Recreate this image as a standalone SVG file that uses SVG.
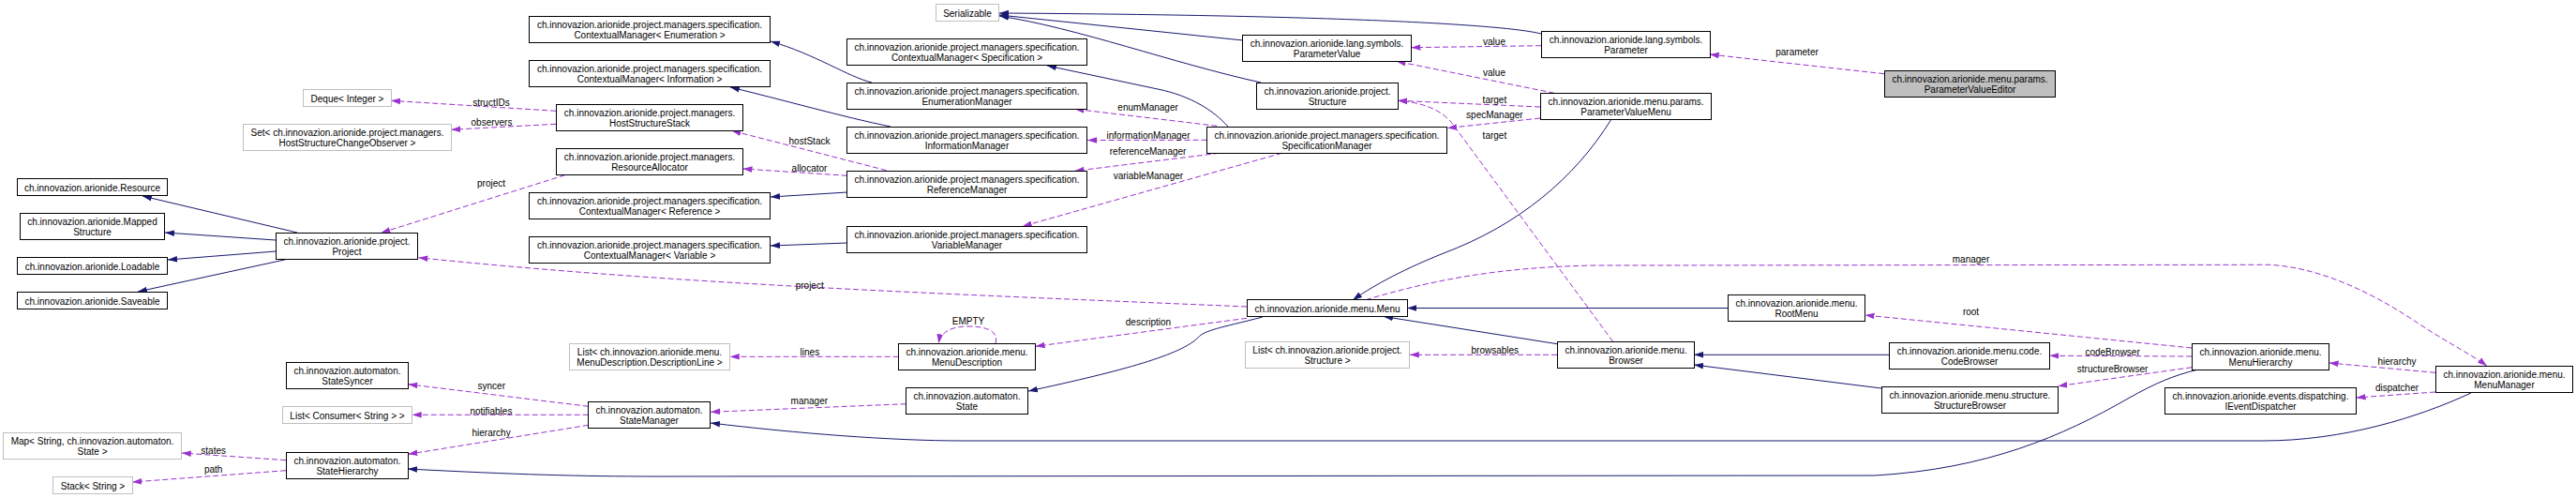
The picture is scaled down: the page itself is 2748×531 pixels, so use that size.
<svg xmlns="http://www.w3.org/2000/svg" width="2748" height="531" viewBox="0 0 2748 531">
<style>
text{font-family:"Liberation Sans",Arial,Helvetica,sans-serif;font-size:10px;fill:#000;text-anchor:middle}
.n rect{fill:#fff;stroke:#000;stroke-width:1}
.x rect{fill:#fff;stroke:#bfbfbf;stroke-width:1}
.m rect{fill:#bfbfbf;stroke:#000;stroke-width:1}
.i{fill:none;stroke:#191970;stroke-width:1;marker-end:url(#inh)}
.d{fill:none;stroke:#9a32cd;stroke-width:1;stroke-dasharray:6,3;marker-end:url(#dep)}
</style>
<defs>
<marker id="inh" markerUnits="userSpaceOnUse" markerWidth="10" markerHeight="8" viewBox="0 0 10 8" refX="10" refY="4" orient="auto"><path d="M0,0.7 L10,4 L0,7.3 z" fill="#191970"/></marker>
<marker id="dep" markerUnits="userSpaceOnUse" markerWidth="10" markerHeight="8" viewBox="0 0 10 8" refX="10" refY="4" orient="auto"><path d="M0,0.7 L10,4 L0,7.3 z" fill="#9a32cd"/></marker>
</defs>
<rect width="2748" height="531" fill="#fff"/>
<g id="connectors">
<path class="i" d="M1644,36 C1600,25 1400,16 1066,14"/>
<path class="i" d="M1326,43 L1066,16"/>
<path class="i" d="M1345,88 C1250,67 1150,30 1066,17"/>
<path class="i" d="M930,88 C905,82 870,58 822,44"/>
<path class="i" d="M950,135 C900,125 830,105 779,93"/>
<path class="i" d="M904,205 L822,210"/>
<path class="i" d="M904,259 L822,262"/>
<path class="i" d="M1310,135 C1295,118 1270,102 1235,95 L1117,70"/>
<path class="i" d="M317,248 L152,209"/>
<path class="i" d="M294,256 L176,248"/>
<path class="i" d="M294,268 L179,277"/>
<path class="i" d="M308,276 L147,311"/>
<path class="i" d="M1719,127 C1680,190 1620,240 1540,270 C1490,290 1460,308 1443,320"/>
<path class="i" d="M1843,328.5 L1501,328.5"/>
<path class="i" d="M1661,366.7 L1476,337.5"/>
<path class="i" d="M2015,378.3 L1807,378.3"/>
<path class="i" d="M2007,414 L1807,389"/>
<path class="i" d="M1347,338 C1300,350 1285,352 1278,360 C1260,378 1200,395 1097,417"/>
<path class="i" d="M2636,419 C2580,445 2500,470 2414,470 L1028,470 C950,470 850,462 758,451"/>
<path class="i" d="M2343,394.5 C2320,400 2300,408 2270,425 C2200,465 2120,500 2000,507 L700,508 C620,508 550,506 435,500"/>
<path class="d" d="M593,118.3 L417,107.3"/>
<path class="d" d="M593,132.3 L481.3,138.3"/>
<path class="d" d="M602.7,186.7 L406.3,248.3"/>
<path class="d" d="M945.6,181.7 L780.4,139.3"/>
<path class="d" d="M903.7,187.3 L792.5,180"/>
<path class="d" d="M1298.3,134.3 L1146.5,116.3"/>
<path class="d" d="M1287.6,149.3 L1160,149.5"/>
<path class="d" d="M1300.5,163.3 L1146.5,182.3"/>
<path class="d" d="M1367.5,163.3 L1090.7,241.3"/>
<path class="d" d="M1644,48.7 L1505.5,50.7"/>
<path class="d" d="M2010,78.7 L1823.8,58"/>
<path class="d" d="M1658.2,99.3 L1489.5,65.3"/>
<path class="d" d="M1643,114 L1491.3,107.3"/>
<path class="d" d="M1643,126 L1544,136.5"/>
<path class="d" d="M1720.7,364.3 L1548,130 Q1530,110 1491.3,107.3"/>
<path class="d" d="M1330,327 C1000,313 720,303 446.4,274.7"/>
<path class="d" d="M1330,339.3 L1104.6,369.3"/>
<path class="d" d="M1062,366.3 C1066,352 1050,348 1033,348 C1015,348 1003,354 1001.4,366.3"/>
<path class="d" d="M958.6,380.3 L778.7,380.3"/>
<path class="d" d="M966.6,430.7 L758.1,439.3"/>
<path class="d" d="M627.7,433.3 L435.3,409.7"/>
<path class="d" d="M627.7,442.3 L439.7,442.3"/>
<path class="d" d="M627.7,453.3 L435.3,484.3"/>
<path class="d" d="M305,490.7 L193.8,483"/>
<path class="d" d="M305,501.7 L141.1,514"/>
<path class="d" d="M1661,378.3 L1503.8,378.3"/>
<path class="d" d="M1457,319.7 C1530,298 1600,285 1700,283 L2420,282.3 C2480,285 2540,318 2580,345 C2615,368 2640,380 2653,390.3"/>
<path class="d" d="M2338.2,371 L1989.5,336"/>
<path class="d" d="M2338.2,380 L2186.4,379.3"/>
<path class="d" d="M2338.2,391.7 L2195.3,411.7"/>
<path class="d" d="M2598,397.3 L2484.6,387"/>
<path class="d" d="M2598,418 L2513.6,424"/>
<text x="524" y="112.5">structIDs</text>
<text x="524.5" y="134">observers</text>
<text x="524" y="198.5">project</text>
<text x="863.5" y="154">hostStack</text>
<text x="863.5" y="182.5">allocator</text>
<text x="1224.6" y="118">enumManager</text>
<text x="1225" y="147.5">informationManager</text>
<text x="1224.6" y="165">referenceManager</text>
<text x="1224.9" y="190.5">variableManager</text>
<text x="1594" y="48">value</text>
<text x="1917" y="58.7">parameter</text>
<text x="1594" y="80.5">value</text>
<text x="1594.4" y="109.5">target</text>
<text x="1594.4" y="125.5">specManager</text>
<text x="1594.4" y="148">target</text>
<text x="863.7" y="308">project</text>
<text x="1033" y="346">EMPTY</text>
<text x="1225" y="346.5">description</text>
<text x="863.9" y="379">lines</text>
<text x="863.3" y="430.7">manager</text>
<text x="524.3" y="414.7">syncer</text>
<text x="523.9" y="441.5">notifiables</text>
<text x="524.1" y="465.3">hierarchy</text>
<text x="227.7" y="484">states</text>
<text x="227.7" y="504">path</text>
<text x="1594.8" y="377">browsables</text>
<text x="2102.5" y="279.5">manager</text>
<text x="2102.5" y="336">root</text>
<text x="2253.6" y="379">codeBrowser</text>
<text x="2253.6" y="397">structureBrowser</text>
<text x="2557" y="389">hierarchy</text>
<text x="2557" y="417">dispatcher</text>
</g>
<g id="ParameterValueEditor" class="m"><rect x="2010.5" y="75.5" width="182" height="28"/><text x="2101.5" y="87.5">ch.innovazion.arionide.menu.params.</text><text x="2101.5" y="98.5">ParameterValueEditor</text></g>
<g id="Parameter" class="n"><rect x="1644.5" y="33.5" width="180" height="28"/><text x="1734.5" y="45.5">ch.innovazion.arionide.lang.symbols.</text><text x="1734.5" y="56.5">Parameter</text></g>
<g id="ParameterValue" class="n"><rect x="1325.5" y="37.5" width="180" height="28"/><text x="1415.5" y="49.5">ch.innovazion.arionide.lang.symbols.</text><text x="1415.5" y="60.5">ParameterValue</text></g>
<g id="Serializable" class="x"><rect x="998.5" y="4.5" width="67" height="18"/><text x="1032" y="17.5">Serializable</text></g>
<g id="ParameterValueMenu" class="n"><rect x="1643.5" y="99.5" width="182" height="28"/><text x="1734.5" y="111.5">ch.innovazion.arionide.menu.params.</text><text x="1734.5" y="122.5">ParameterValueMenu</text></g>
<g id="Structure" class="n"><rect x="1340.5" y="88.5" width="151" height="28"/><text x="1416" y="100.5">ch.innovazion.arionide.project.</text><text x="1416" y="111.5">Structure</text></g>
<g id="SpecificationManager" class="n"><rect x="1287.5" y="135.5" width="256" height="28"/><text x="1415.5" y="147.5">ch.innovazion.arionide.project.managers.specification.</text><text x="1415.5" y="158.5">SpecificationManager</text></g>
<g id="CMSpecification" class="n"><rect x="903.5" y="41.5" width="256" height="28"/><text x="1031.5" y="53.5">ch.innovazion.arionide.project.managers.specification.</text><text x="1031.5" y="64.5">ContextualManager&lt; Specification &gt;</text></g>
<g id="EnumerationManager" class="n"><rect x="903.5" y="88.5" width="256" height="28"/><text x="1031.5" y="100.5">ch.innovazion.arionide.project.managers.specification.</text><text x="1031.5" y="111.5">EnumerationManager</text></g>
<g id="InformationManager" class="n"><rect x="903.5" y="135.5" width="256" height="28"/><text x="1031.5" y="147.5">ch.innovazion.arionide.project.managers.specification.</text><text x="1031.5" y="158.5">InformationManager</text></g>
<g id="ReferenceManager" class="n"><rect x="903.5" y="182.5" width="256" height="28"/><text x="1031.5" y="194.5">ch.innovazion.arionide.project.managers.specification.</text><text x="1031.5" y="205.5">ReferenceManager</text></g>
<g id="VariableManager" class="n"><rect x="903.5" y="241.5" width="256" height="28"/><text x="1031.5" y="253.5">ch.innovazion.arionide.project.managers.specification.</text><text x="1031.5" y="264.5">VariableManager</text></g>
<g id="CMEnumeration" class="n"><rect x="564.5" y="17.5" width="257" height="28"/><text x="693" y="29.5">ch.innovazion.arionide.project.managers.specification.</text><text x="693" y="40.5">ContextualManager&lt; Enumeration &gt;</text></g>
<g id="CMInformation" class="n"><rect x="564.5" y="64.5" width="257" height="28"/><text x="693" y="76.5">ch.innovazion.arionide.project.managers.specification.</text><text x="693" y="87.5">ContextualManager&lt; Information &gt;</text></g>
<g id="HostStructureStack" class="n"><rect x="593.5" y="111.5" width="199" height="28"/><text x="693" y="123.5">ch.innovazion.arionide.project.managers.</text><text x="693" y="134.5">HostStructureStack</text></g>
<g id="ResourceAllocator" class="n"><rect x="593.5" y="158.5" width="199" height="28"/><text x="693" y="170.5">ch.innovazion.arionide.project.managers.</text><text x="693" y="181.5">ResourceAllocator</text></g>
<g id="CMReference" class="n"><rect x="564.5" y="205.5" width="257" height="28"/><text x="693" y="217.5">ch.innovazion.arionide.project.managers.specification.</text><text x="693" y="228.5">ContextualManager&lt; Reference &gt;</text></g>
<g id="CMVariable" class="n"><rect x="564.5" y="252.5" width="257" height="28"/><text x="693" y="264.5">ch.innovazion.arionide.project.managers.specification.</text><text x="693" y="275.5">ContextualManager&lt; Variable &gt;</text></g>
<g id="DequeInteger" class="x"><rect x="323.5" y="95.5" width="94" height="18"/><text x="370.5" y="108.5">Deque&lt; Integer &gt;</text></g>
<g id="SetObserver" class="x"><rect x="259.5" y="132.5" width="222" height="28"/><text x="370.5" y="144.5">Set&lt; ch.innovazion.arionide.project.managers.</text><text x="370.5" y="155.5">HostStructureChangeObserver &gt;</text></g>
<g id="Project" class="n"><rect x="294.5" y="248.5" width="151" height="28"/><text x="370" y="260.5">ch.innovazion.arionide.project.</text><text x="370" y="271.5">Project</text></g>
<g id="Resource" class="n"><rect x="18.5" y="190.5" width="160" height="18"/><text x="98.5" y="203.5">ch.innovazion.arionide.Resource</text></g>
<g id="MappedStructure" class="n"><rect x="21.5" y="227.5" width="154" height="28"/><text x="98.5" y="239.5">ch.innovazion.arionide.Mapped</text><text x="98.5" y="250.5">Structure</text></g>
<g id="Loadable" class="n"><rect x="18.5" y="274.5" width="160" height="18"/><text x="98.5" y="287.5">ch.innovazion.arionide.Loadable</text></g>
<g id="Saveable" class="n"><rect x="18.5" y="311.5" width="160" height="18"/><text x="98.5" y="324.5">ch.innovazion.arionide.Saveable</text></g>
<g id="Menu" class="n"><rect x="1330.5" y="319.5" width="171" height="18"/><text x="1416" y="332.5">ch.innovazion.arionide.menu.Menu</text></g>
<g id="RootMenu" class="n"><rect x="1843.5" y="314.5" width="146" height="28"/><text x="1916.5" y="326.5">ch.innovazion.arionide.menu.</text><text x="1916.5" y="337.5">RootMenu</text></g>
<g id="Browser" class="n"><rect x="1661.5" y="364.5" width="146" height="28"/><text x="1734.5" y="376.5">ch.innovazion.arionide.menu.</text><text x="1734.5" y="387.5">Browser</text></g>
<g id="ListStructure" class="x"><rect x="1328.5" y="364.5" width="175" height="28"/><text x="1416" y="376.5">List&lt; ch.innovazion.arionide.project.</text><text x="1416" y="387.5">Structure &gt;</text></g>
<g id="CodeBrowser" class="n"><rect x="2015.5" y="365.5" width="171" height="28"/><text x="2101" y="377.5">ch.innovazion.arionide.menu.code.</text><text x="2101" y="388.5">CodeBrowser</text></g>
<g id="StructureBrowser" class="n"><rect x="2007.5" y="412.5" width="188" height="28"/><text x="2101.5" y="424.5">ch.innovazion.arionide.menu.structure.</text><text x="2101.5" y="435.5">StructureBrowser</text></g>
<g id="MenuHierarchy" class="n"><rect x="2338.5" y="366.5" width="146" height="28"/><text x="2411.5" y="378.5">ch.innovazion.arionide.menu.</text><text x="2411.5" y="389.5">MenuHierarchy</text></g>
<g id="MenuManager" class="n"><rect x="2598.5" y="390.5" width="146" height="28"/><text x="2671.5" y="402.5">ch.innovazion.arionide.menu.</text><text x="2671.5" y="413.5">MenuManager</text></g>
<g id="IEventDispatcher" class="n"><rect x="2309.5" y="413.5" width="204" height="28"/><text x="2411.5" y="425.5">ch.innovazion.arionide.events.dispatching.</text><text x="2411.5" y="436.5">IEventDispatcher</text></g>
<g id="MenuDescription" class="n"><rect x="958.5" y="366.5" width="146" height="28"/><text x="1031.5" y="378.5">ch.innovazion.arionide.menu.</text><text x="1031.5" y="389.5">MenuDescription</text></g>
<g id="State" class="n"><rect x="966.5" y="413.5" width="130" height="28"/><text x="1031.5" y="425.5">ch.innovazion.automaton.</text><text x="1031.5" y="436.5">State</text></g>
<g id="ListDescriptionLine" class="x"><rect x="607.5" y="366.5" width="171" height="28"/><text x="693" y="378.5">List&lt; ch.innovazion.arionide.menu.</text><text x="693" y="389.5">MenuDescription.DescriptionLine &gt;</text></g>
<g id="StateManager" class="n"><rect x="627.5" y="428.5" width="130" height="28"/><text x="692.5" y="440.5">ch.innovazion.automaton.</text><text x="692.5" y="451.5">StateManager</text></g>
<g id="StateSyncer" class="n"><rect x="305.5" y="386.5" width="130" height="28"/><text x="370.5" y="398.5">ch.innovazion.automaton.</text><text x="370.5" y="409.5">StateSyncer</text></g>
<g id="ListConsumer" class="x"><rect x="301.5" y="433.5" width="138" height="18"/><text x="370.5" y="446.5">List&lt; Consumer&lt; String &gt; &gt;</text></g>
<g id="StateHierarchy" class="n"><rect x="305.5" y="482.5" width="130" height="28"/><text x="370.5" y="494.5">ch.innovazion.automaton.</text><text x="370.5" y="505.5">StateHierarchy</text></g>
<g id="MapState" class="x"><rect x="3.5" y="461.5" width="190" height="28"/><text x="98.5" y="473.5">Map&lt; String, ch.innovazion.automaton.</text><text x="98.5" y="484.5">State &gt;</text></g>
<g id="StackString" class="x"><rect x="56.5" y="508.5" width="85" height="18"/><text x="99" y="521.5">Stack&lt; String &gt;</text></g>
</svg>
